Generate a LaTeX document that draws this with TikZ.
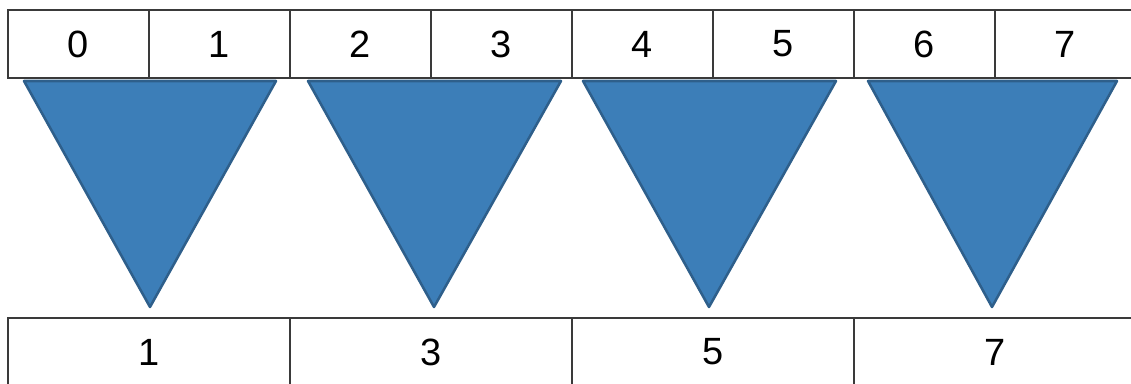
\documentclass[tikz,border=0pt]{standalone}
\usepackage{fontspec}
\setmainfont{Liberation Sans}
\definecolor{cellLine}{HTML}{3A3A3A}
\definecolor{triFill}{HTML}{3C7EB8}
\definecolor{triDraw}{HTML}{2E5F8B}
\tikzset{
  cell/.style={draw=cellLine, line width=1.2pt, fill=white},
  reduce/.style={fill=triFill, draw=triDraw, line width=1.8pt, line join=round},
  num/.style={font=\fontsize{27}{30}\selectfont}
}

\begin{document}
\begin{tikzpicture}[x=0.025cm, y=-0.025cm]
  \useasboundingbox (0,0) rectangle (1131,383);
  % input row
  \foreach \i in {0,...,7} {
    \filldraw[cell] (8+141*\i,10) rectangle (149+141*\i,78);
    \node[num] (t\i) at (78.5+141*\i,44) {\i};
  }
  % reduction triangles
  \foreach \l/\r/\a in {24/276/150, 308/561/434, 583/836/709, 868/1117/992} {
    \filldraw[reduce] (\l,81) -- (\r,81) -- (\a,307) -- cycle;
  }
  % output row
  \foreach \i/\v in {0/1,1/3,2/5,3/7} {
    \filldraw[cell] (8+282*\i,318) rectangle (290+282*\i,390);
    \node[num] (b\i) at (149+282*\i,352) {\v};
  }
\end{tikzpicture}
\end{document}
